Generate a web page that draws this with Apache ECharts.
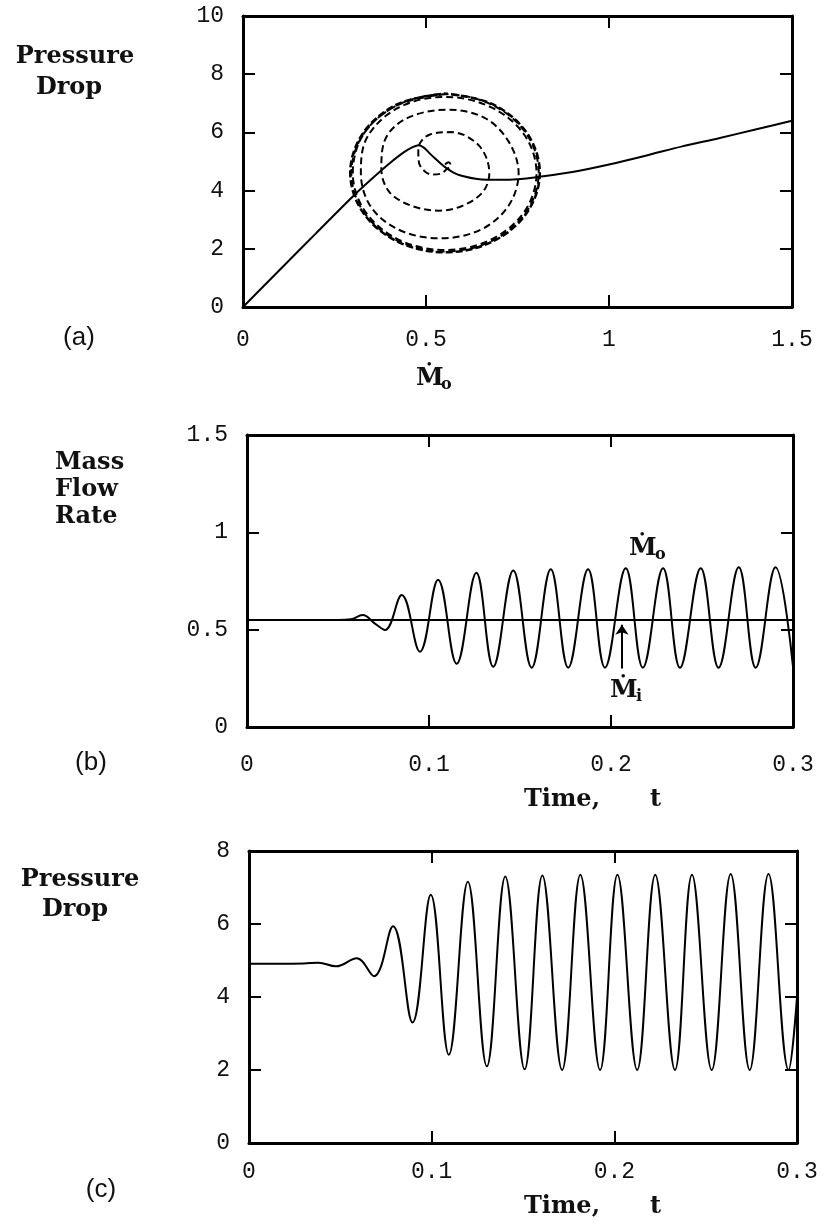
<!DOCTYPE html>
<html>
<head>
<meta charset="utf-8">
<script src="https://cdn.jsdelivr.net/npm/echarts@6/dist/echarts.min.js"></script>
<style>
  html, body { margin: 0; background: #fff; }
  #chart { width: 824px; height: 1226px; }
</style>
</head>
<body>
<div id="chart"></div>
<script>
// (a) compressor characteristic, pressure drop vs outlet mass flow
const charCurve = [
  [0, 0], [0.1, 1.27], [0.2, 2.54], [0.3, 3.8], [0.35, 4.38], [0.4, 4.93],
  [0.44, 5.32], [0.465, 5.5], [0.48, 5.56], [0.495, 5.47], [0.51, 5.28],
  [0.525, 5.1], [0.54, 4.93], [0.555, 4.78], [0.575, 4.62], [0.6, 4.5],
  [0.64, 4.4], [0.7, 4.37], [0.76, 4.4], [0.8, 4.46], [0.9, 4.64], [1.0, 4.9],
  [1.1, 5.2], [1.2, 5.52], [1.3, 5.8], [1.4, 6.1], [1.5, 6.4]
];

// (a) transient trajectory, spiralling out (clockwise) from the equilibrium point
const spiralPts = [
  // tiny loop round the equilibrium
  [0.552, 4.90], [0.562, 4.97], [0.568, 4.86], [0.557, 4.74], [0.540, 4.58],
  [0.518, 4.55], [0.497, 4.66], [0.481, 4.95], [0.479, 5.35], [0.486, 5.68],
  [0.511, 5.93],
  // first loop
  [0.566, 6.01], [0.612, 5.86], [0.655, 5.38], [0.673, 4.60], [0.655, 3.95],
  [0.600, 3.48], [0.535, 3.31], [0.460, 3.48], [0.400, 3.95], [0.378, 4.75],
  [0.390, 5.80], [0.450, 6.50],
  // second loop
  [0.560, 6.78], [0.660, 6.50], [0.725, 5.70], [0.753, 4.60], [0.725, 3.47],
  [0.650, 2.66], [0.540, 2.36], [0.430, 2.63], [0.350, 3.43], [0.322, 4.62],
  [0.340, 5.85], [0.425, 6.85],
  // third loop
  [0.550, 7.22], [0.677, 6.87], [0.769, 5.91], [0.802, 4.60], [0.769, 3.28],
  [0.677, 2.31], [0.552, 1.96], [0.426, 2.31], [0.334, 3.28], [0.300, 4.60],
  [0.330, 5.95], [0.424, 6.95],
  // settling onto the limit cycle
  [0.552, 7.31], [0.680, 6.95], [0.774, 5.96], [0.808, 4.61], [0.774, 3.26],
  [0.680, 2.27], [0.552, 1.91], [0.424, 2.27], [0.330, 3.26], [0.296, 4.61],
  [0.330, 5.96], [0.424, 6.95], [0.552, 7.31]
];

// (a) limit cycle (surge loop), outer pass
const limitCycle = [
  [0.552, 7.34], [0.682, 6.97], [0.776, 5.975], [0.811, 4.61], [0.776, 3.245],
  [0.682, 2.25], [0.552, 1.88], [0.422, 2.25], [0.328, 3.245], [0.293, 4.61],
  [0.328, 5.975], [0.422, 6.97], [0.552, 7.34]
];

// (b) mass flow rates vs time
const inletFlow = 0.55;
const outletFlow = [
  [0, 0.55], [0.05, 0.55], [0.057, 0.553], [0.0635, 0.575], [0.0705, 0.53],
  [0.0758, 0.498], [0.085, 0.678], [0.095, 0.387], [0.105, 0.757],
  [0.1152, 0.325], [0.126, 0.792], [0.1353, 0.31], [0.1463, 0.804],
  [0.1564, 0.305], [0.1669, 0.81], [0.1765, 0.305], [0.1874, 0.81],
  [0.1967, 0.305], [0.2081, 0.815], [0.2175, 0.305], [0.2286, 0.815],
  [0.2379, 0.305], [0.2493, 0.815], [0.2591, 0.305], [0.2702, 0.82],
  [0.2795, 0.305], [0.2904, 0.82], [0.3, 0.31]
];

// (c) pressure drop vs time
const pressureDrop = [
  [0, 4.91], [0.03, 4.92], [0.038, 4.94], [0.0476, 4.84], [0.059, 5.06],
  [0.0684, 4.57], [0.0788, 5.94], [0.0895, 3.30], [0.0995, 6.80],
  [0.1094, 2.42], [0.1198, 7.16], [0.1302, 2.10], [0.1403, 7.30],
  [0.1509, 2.02], [0.1606, 7.33], [0.1714, 2.0], [0.1814, 7.35],
  [0.1922, 2.0], [0.2017, 7.35], [0.2125, 2.0], [0.2224, 7.35],
  [0.2332, 2.0], [0.2425, 7.35], [0.2533, 2.0], [0.2637, 7.37],
  [0.2741, 2.0], [0.2844, 7.37], [0.2954, 2.0], [0.3, 4.0]
];

const tickFont = { fontFamily: '"Liberation Mono", monospace', fontSize: 23, color: '#111' };
const boldSerif = 'bold 24px "DejaVu Serif", serif';

const chart = echarts.init(document.getElementById('chart'));

// one boxed frame = bottom/top x axes + left/right y axes, ticks inside
function frameX (grid, min, max, interval, margin) {
  const base = {
    type: 'value', gridIndex: grid, min: min, max: max, interval: interval,
    axisLine: { show: true, onZero: false, lineStyle: { color: '#000', width: 3 } },
    axisTick: { show: true, inside: true, length: 12, lineStyle: { color: '#000', width: 2 } },
    splitLine: { show: false },
  };
  return [
    Object.assign({}, base, { position: 'bottom', axisLabel: Object.assign({ margin: margin }, tickFont) }),
    Object.assign({}, base, { position: 'top', axisLabel: { show: false } }),
  ];
}
function frameY (grid, min, max, interval) {
  const base = {
    type: 'value', gridIndex: grid, min: min, max: max, interval: interval,
    axisLine: { show: true, onZero: false, lineStyle: { color: '#000', width: 3 } },
    axisTick: { show: true, inside: true, length: 12, lineStyle: { color: '#000', width: 2 } },
    splitLine: { show: false },
  };
  return [
    Object.assign({}, base, { position: 'left', axisLabel: Object.assign({ margin: 19 }, tickFont) }),
    Object.assign({}, base, { position: 'right', axisLabel: { show: false } }),
  ];
}

function text (x, y, str, font, align) {
  return {
    type: 'text', x: x, y: y, silent: true,
    style: { text: str, font: font, fill: '#111', textAlign: align || 'left', textVerticalAlign: 'middle' },
  };
}

const option = {
  animation: false,
  backgroundColor: '#fff',
  grid: [
    { left: 243, top: 16, width: 549, height: 291 },
    { left: 247, top: 435, width: 546, height: 292 },
    { left: 249, top: 851, width: 548, height: 292 },
  ],
  xAxis: [].concat(
    frameX(0, 0, 1.5, 0.5, 21),
    frameX(1, 0, 0.3, 0.1, 26),
    frameX(2, 0, 0.3, 0.1, 17)
  ),
  yAxis: [].concat(
    frameY(0, 0, 10, 2),
    frameY(1, 0, 1.5, 0.5),
    frameY(2, 0, 8, 2)
  ),
  series: [
    {
      type: 'line', xAxisIndex: 0, yAxisIndex: 0, data: charCurve,
      showSymbol: false, smooth: 0.3, silent: true,
      lineStyle: { color: '#000', width: 2 },
    },
    {
      type: 'line', xAxisIndex: 0, yAxisIndex: 0, data: spiralPts,
      showSymbol: false, smooth: 0.35, silent: true,
      lineStyle: { color: '#000', width: 2, type: [7, 4] },
    },
    {
      type: 'line', xAxisIndex: 0, yAxisIndex: 0, data: limitCycle,
      showSymbol: false, smooth: 0.35, silent: true,
      lineStyle: { color: '#000', width: 2.5, type: [7, 3], dashOffset: 4 },
    },
    {
      type: 'line', xAxisIndex: 2, yAxisIndex: 2, data: [[0, inletFlow], [0.3, inletFlow]],
      showSymbol: false, silent: true,
      lineStyle: { color: '#000', width: 2 },
      markLine: {
        silent: true, symbol: ['none', 'arrow'], symbolSize: 10,
        label: { show: false },
        lineStyle: { color: '#000', width: 2, type: 'solid' },
        data: [[{ coord: [0.206, 0.30] }, { coord: [0.206, 0.525] }]],
      },
    },
    {
      type: 'line', xAxisIndex: 2, yAxisIndex: 2, data: outletFlow,
      showSymbol: false, smooth: 0.4, silent: true,
      lineStyle: { color: '#000', width: 2 },
    },
    {
      type: 'line', xAxisIndex: 4, yAxisIndex: 4, data: pressureDrop,
      showSymbol: false, smooth: 0.4, silent: true,
      lineStyle: { color: '#000', width: 2 },
    },
  ],
  graphic: [
    // axis titles
    text(75, 57, 'Pressure', boldSerif, 'center'),
    text(69, 88, 'Drop', boldSerif, 'center'),
    text(55, 463, 'Mass', boldSerif),
    text(55, 490, 'Flow', boldSerif),
    text(55, 517, 'Rate', boldSerif),
    text(80, 880, 'Pressure', boldSerif, 'center'),
    text(75, 910, 'Drop', boldSerif, 'center'),
    // panel letters
    text(79, 338, '(a)', '26px "Liberation Sans", sans-serif', 'center'),
    text(91, 763, '(b)', '26px "Liberation Sans", sans-serif', 'center'),
    text(101, 1190, '(c)', '26px "Liberation Sans", sans-serif', 'center'),
    // x titles
    text(416, 378, 'Ṁ', 'bold 25px "DejaVu Serif", serif'),
    text(441, 385, 'o', 'bold 16px "DejaVu Serif", serif'),
    text(524, 800, 'Time,', boldSerif),
    text(650, 800, 't', boldSerif),
    text(524, 1207, 'Time,', boldSerif),
    text(650, 1207, 't', boldSerif),
    // (b) curve labels
    text(629, 548, 'Ṁ', 'bold 25px "DejaVu Serif", serif'),
    text(655, 555, 'o', 'bold 16px "DejaVu Serif", serif'),
    text(610, 690, 'Ṁ', 'bold 25px "DejaVu Serif", serif'),
    text(636, 697, 'i', 'bold 16px "DejaVu Serif", serif'),
  ],
};

chart.setOption(option);
</script>
</body>
</html>
